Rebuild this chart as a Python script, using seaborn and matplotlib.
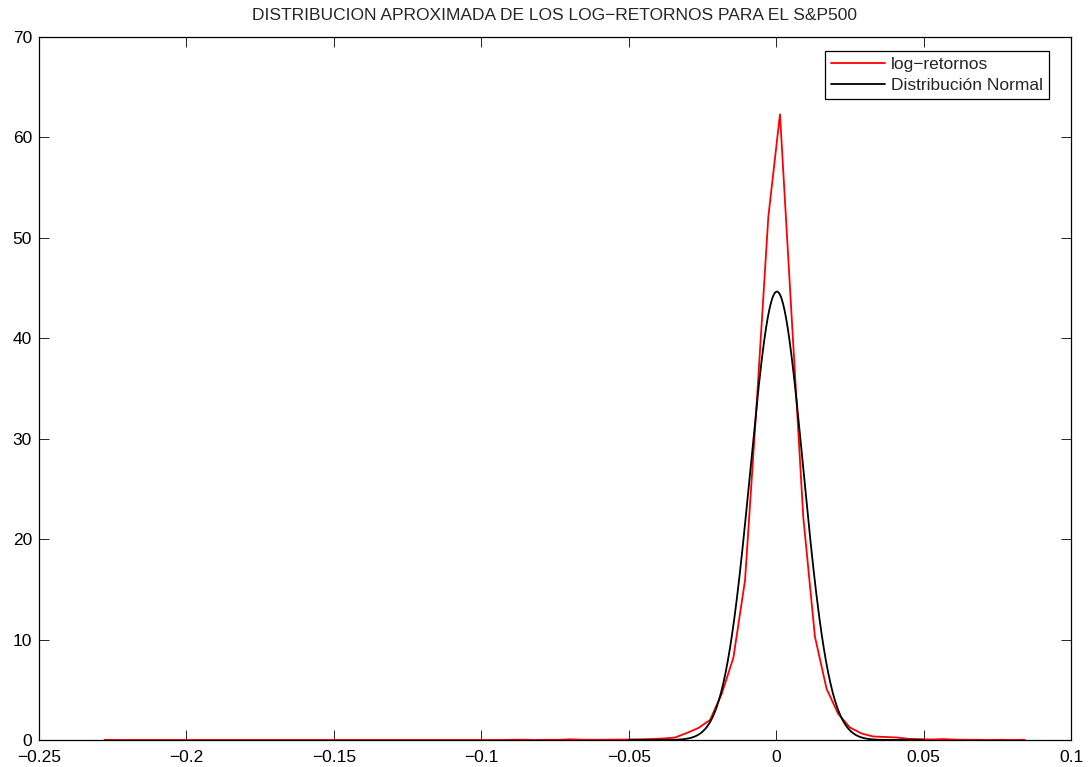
import numpy as np
import pandas as pd
import matplotlib
matplotlib.use("Agg")
import matplotlib.pyplot as plt
import seaborn as sns

# Empirical density of daily S&P500 log-returns (80 equal-width bins)
bin_start = -0.2278   # centre of the first bin
bin_width = 0.00395
density = [
    0.02, 0.0, 0.0, 0.0, 0.0, 0.0, 0.0, 0.0, 0.0, 0.0,
    0.0, 0.0, 0.0, 0.0, 0.0, 0.0, 0.0, 0.0, 0.0, 0.0,
    0.0, 0.0, 0.0, 0.0, 0.0, 0.0, 0.0, 0.0, 0.0, 0.0,
    0.0, 0.0, 0.0, 0.0, 0.0, 0.02, 0.03, 0.0, 0.02, 0.02,
    0.07, 0.03, 0.02, 0.03, 0.04, 0.05, 0.07, 0.10, 0.15, 0.25,
    0.70, 1.20, 2.00, 4.60, 8.20, 15.9, 33.5, 52.1, 62.3, 42.2,
    22.2, 10.3, 5.10, 2.60, 1.25, 0.65, 0.35, 0.30, 0.25, 0.12,
    0.08, 0.05, 0.09, 0.04, 0.02, 0.02, 0.0, 0.02, 0.0, 0.02,
]
centres = bin_start + bin_width * np.arange(len(density))

# Fitted normal distribution
mu = 0.00025
sigma = 0.008935
x_norm = np.linspace(-0.05, 0.05, 400)
y_norm = np.exp(-0.5 * ((x_norm - mu) / sigma) ** 2) / (sigma * np.sqrt(2 * np.pi))

x_ticks = [-0.25, -0.2, -0.15, -0.1, -0.05, 0, 0.05, 0.1]
x_tick_labels = ["\u22120.25", "\u22120.2", "\u22120.15", "\u22120.1", "\u22120.05", "0", "0.05", "0.1"]
y_ticks = [0, 10, 20, 30, 40, 50, 60, 70]

sns.set_style("white")
plt.rcParams["font.family"] = ["Liberation Sans", "DejaVu Sans"]

FS = 12.5

fig = plt.figure(figsize=(10.92, 7.67), dpi=100)
ax = fig.add_axes([39 / 1092, 1 - 740 / 767, 1032 / 1092, 703 / 767])

df_emp = pd.DataFrame({"x": centres, "y": density})
df_norm = pd.DataFrame({"x": x_norm, "y": y_norm})
sns.lineplot(data=df_emp, x="x", y="y", ax=ax, color="#ff0000", linewidth=1.3,
             label="log\u2212retornos", sort=False)
sns.lineplot(data=df_norm, x="x", y="y", ax=ax, color="#000000", linewidth=1.3,
             label="Distribuci\u00f3n Normal", sort=False)

ax.set_xlim(-0.25, 0.1)
ax.set_ylim(0, 70)
ax.set_xticks(x_ticks)
ax.set_xticklabels(x_tick_labels)
ax.set_yticks(y_ticks)
ax.set_xlabel("")
ax.set_ylabel("")
for s in ax.spines.values():
    s.set_visible(True)
    s.set_color("black")
    s.set_linewidth(0.9)
ax.tick_params(direction="in", length=7, width=0.6, top=True, right=True,
               bottom=True, left=True, labelsize=FS, colors="black")
ax.tick_params(axis="x", pad=7)
ax.tick_params(axis="y", pad=5)

ax.set_title("DISTRIBUCION APROXIMADA DE LOS LOG\u2212RETORNOS PARA EL S&P500",
             fontsize=FS, pad=12)

leg = ax.legend(loc="upper right", bbox_to_anchor=(0.9787, 0.980), fontsize=FS,
                frameon=True, fancybox=False, framealpha=1, edgecolor="black",
                handlelength=3.1, handletextpad=0.35, borderpad=0.35, labelspacing=0.3,
                borderaxespad=0)
leg.get_frame().set_linewidth(0.9)

fig.savefig("out.png", dpi=100, facecolor="white")
